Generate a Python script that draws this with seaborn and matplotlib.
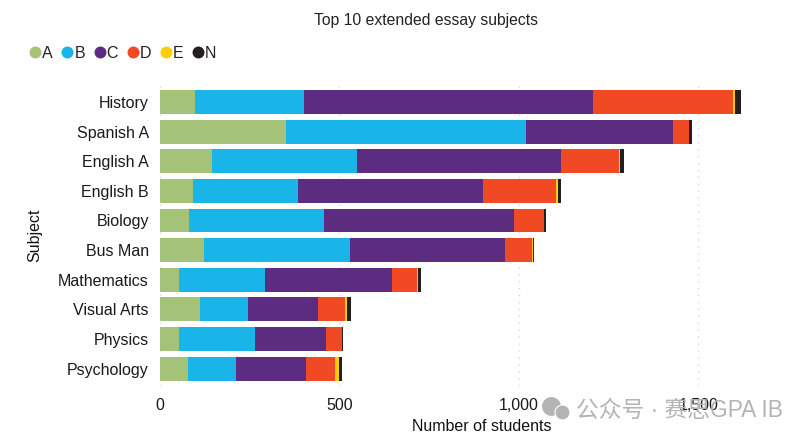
import matplotlib
matplotlib.use('Agg')
import matplotlib.pyplot as plt
from matplotlib.lines import Line2D
import numpy as np
import pandas as pd
import seaborn as sns

subjects = ['History', 'Spanish A', 'English A', 'English B', 'Biology',
            'Bus Man', 'Mathematics', 'Visual Arts', 'Physics', 'Psychology']
grades = ['A', 'B', 'C', 'D', 'E', 'N']
grade_a = [97, 351, 145, 92, 81, 123, 53, 111, 53, 78]
grade_b = [304, 668, 404, 292, 376, 407, 240, 134, 212, 134]
grade_c = [805, 409, 568, 515, 529, 432, 354, 195, 198, 195]
grade_d = [390, 47, 162, 203, 84, 75, 70, 75, 45, 81]
grade_e = [6, 0, 3, 6, 0, 3, 3, 6, 0, 11]
grade_n = [17, 8, 11, 8, 6, 3, 6, 11, 3, 8]
colors = ['#A5C279', '#19B4E8', '#5C2C80', '#F04923', '#FFCD05', '#231F20']
x_ticks = [0, 500, 1000, 1500]
x_labels = ['0', '500', '1,000', '1,500']

sns.set_theme(style='white')
plt.rcParams['font.family'] = ['Liberation Sans', 'Noto Sans CJK SC', 'DejaVu Sans']
plt.rcParams['text.color'] = '#222222'

df = pd.DataFrame(np.array([grade_a, grade_b, grade_c, grade_d, grade_e, grade_n]).T,
                  columns=grades)
df['Subject'] = subjects
stacked = df.copy()
stacked[grades] = df[grades].cumsum(axis=1)

W, H = 808, 442
fig = plt.figure(figsize=(W / 100, H / 100), dpi=100)
ax = fig.add_axes([160 / W, 1 - 386 / H, 644 / W, 302 / H])

# longest first, the shorter totals paint over it
for grade, color in reversed(list(zip(grades, colors))):
    sns.barplot(data=stacked, x=grade, y='Subject', color=color, width=0.81,
                saturation=1, linewidth=0, ax=ax, zorder=3)

ax.set_xlim(0, 1794)
ax.set_ylim(9.59, -0.61)
ax.set_xticks(x_ticks)
ax.set_xticklabels(x_labels)
ax.tick_params(axis='both', length=0, labelsize=11.5, labelcolor='#1a1a1a')
ax.tick_params(axis='x', pad=9)
ax.tick_params(axis='y', pad=8)
ax.grid(axis='x', color='#d8d8d8', linestyle=(0, (1, 4)), linewidth=1.0, zorder=0)
ax.grid(axis='y', visible=False)
sns.despine(ax=ax, left=True, bottom=True)
ax.set_xlabel('Number of students', fontsize=11.5, color='#111111', labelpad=4)
ax.set_ylabel('Subject', fontsize=11.5, color='#111111')
ax.yaxis.set_label_coords((42 - 160) / 644, 0.5)

fig.text(426.5 / W, 1 - 20 / H, 'Top 10 extended essay subjects', ha='center', va='center',
         fontsize=11.3)

handles = [Line2D([], [], marker='o', linestyle='none', color=c, markersize=8.6, markeredgewidth=0)
           for c in colors]
fig.legend(handles, grades, ncol=6, frameon=False, loc='center left',
           bbox_to_anchor=(16 / W, 1 - 53 / H), fontsize=11.5, handletextpad=-0.25,
           columnspacing=0.2, borderpad=0, handlelength=1.4)

# watermark over the lower right corner
for px, py, size in [(551, 406, 20), (562, 412, 15)]:
    fig.add_artist(Line2D([px / W], [1 - py / H], marker='o', markersize=size * 0.72,
                          color='#b4b4b4', markeredgecolor='white', markeredgewidth=0.8,
                          linestyle='none', transform=fig.transFigure))
fig.text(576 / W, 1 - 410 / H, '公众号 · 赛思GPA IB', ha='left', va='center',
         fontsize=16.4, color='#b4b4b4', zorder=10)

fig.savefig('out.png', dpi=100)
